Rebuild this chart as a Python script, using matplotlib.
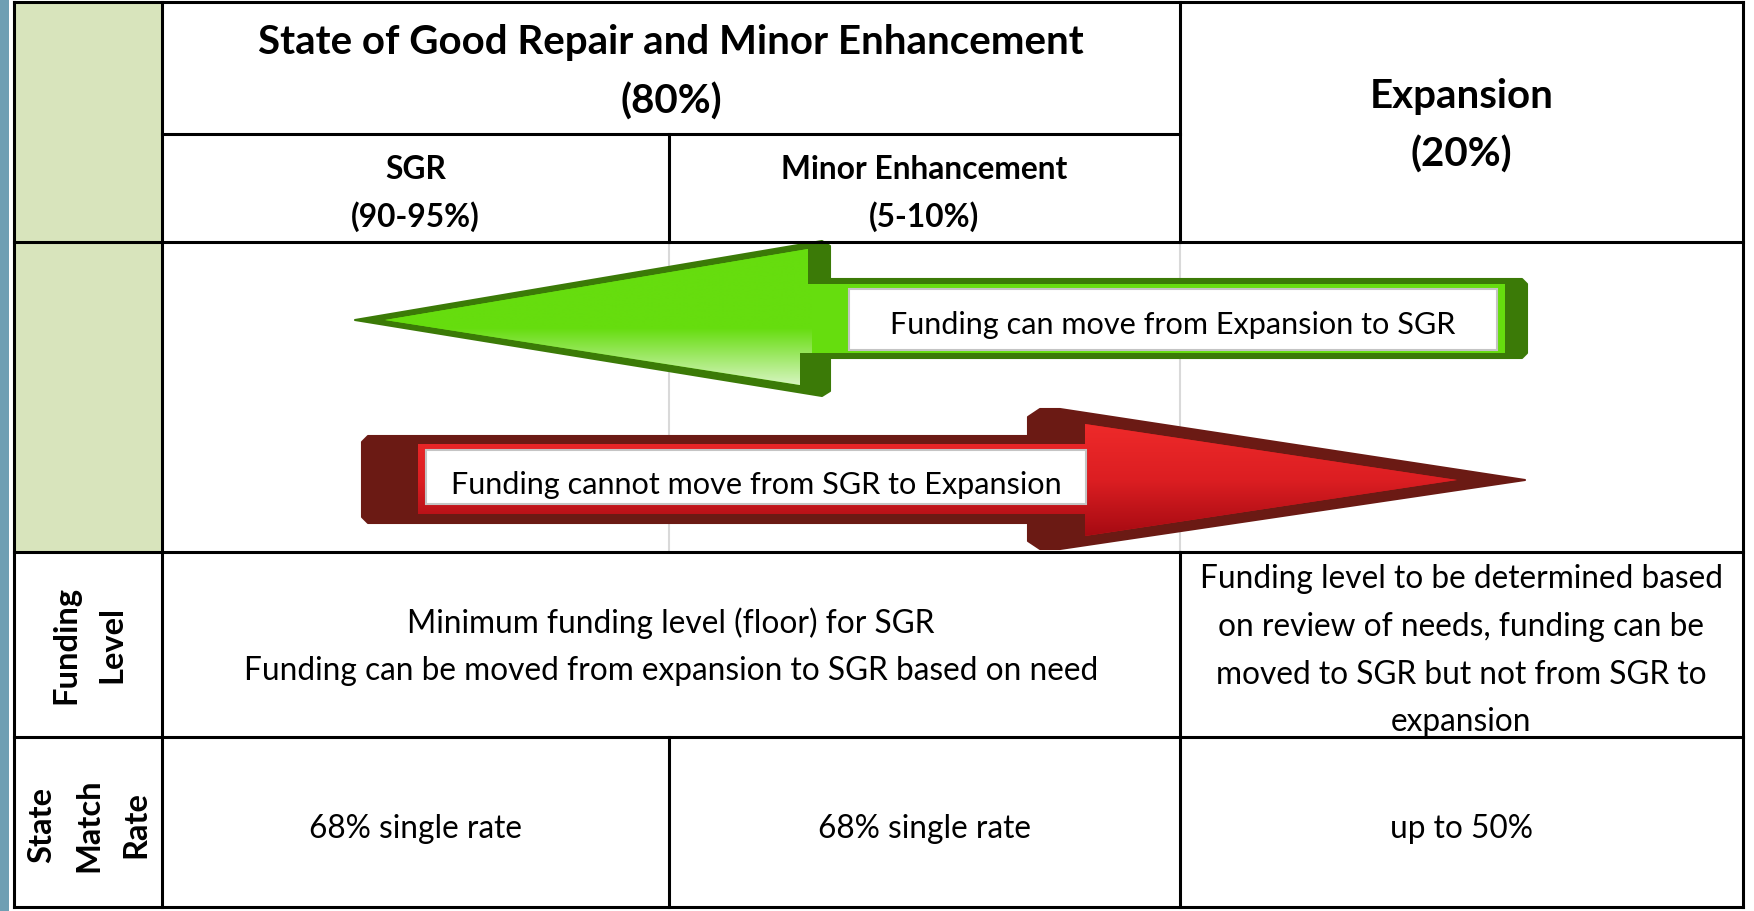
import numpy as np
import matplotlib.pyplot as plt
from matplotlib.patches import Polygon, Rectangle
from matplotlib.colors import LinearSegmentedColormap

plt.rcParams['font.family'] = ['Lato', 'DejaVu Sans']

# table content
top_header = ["State of Good Repair and Minor Enhancement", "(80%)"]
exp_header = ["Expansion", "(20%)"]
sub_headers = [["SGR", "(90-95%)"], ["Minor Enhancement", "(5-10%)"]]
arrow_labels = ["Funding can move from Expansion to SGR",
                "Funding cannot move from SGR to Expansion"]
row_labels = [["Funding", "Level"], ["State", "Match", "Rate"]]
funding_sgr = ["Minimum funding level (floor) for SGR",
               "Funding can be moved from expansion to SGR based on need"]
funding_exp = ["Funding level to be determined based",
               "on review of needs, funding can be",
               "moved to SGR but not from SGR to",
               "expansion"]
match_rates = ["68% single rate", "68% single rate", "up to 50%"]

# grid (pixels)
X = [14, 162, 669, 1180, 1743]
Y = [3, 135, 243, 553, 738, 908]

fig = plt.figure(figsize=(17.54, 9.12), dpi=100)
ax = fig.add_axes([0, 0, 1, 1])
ax.set_xlim(0, 1754)
ax.set_ylim(912, 0)
ax.axis('off')


def hline(y, x0, x1, color='black', lw=2.2, z=8):
    ax.plot([x0, x1], [y, y], color=color, lw=lw, solid_capstyle='projecting', zorder=z)


def vline(x, y0, y1, color='black', lw=2.2, z=8):
    ax.plot([x, x], [y0, y1], color=color, lw=lw, solid_capstyle='projecting', zorder=z)


def size_for(s, width, weight='normal'):
    t = ax.text(0, 0, s, fontsize=20, fontweight=weight)
    w = t.get_window_extent(fig.canvas.get_renderer()).width
    t.remove()
    return 20.0 * width / w


def put(x, yc, s, fs, weight='normal'):
    # yc is the visual middle of the capitals
    ax.text(x, yc + 0.36 * fs * 100 / 72, s, fontsize=fs, fontweight=weight,
            ha='center', va='baseline', zorder=7)


# side strip and shaded label column
ax.add_patch(Rectangle((0, 0), 9, 912, color='#6f9fb3', lw=0))
ax.add_patch(Rectangle((X[0], Y[0]), X[1] - X[0], Y[3] - Y[0], color='#d8e4bc', lw=0))

# faint column guides under the arrows
vline(X[2], Y[2], Y[3], color='#d9d9d9', lw=1.5, z=1)
vline(X[3], Y[2], Y[3], color='#d9d9d9', lw=1.5, z=1)

grad = np.linspace(0, 1, 256).reshape(-1, 1)

# green arrow (left)
g_outer = [(355, 321), (822, 242), (830, 247), (830, 280), (1522, 280), (1527, 285),
           (1527, 354), (1522, 359), (830, 359), (830, 392), (822, 397)]
g_face = [(385, 321), (808, 250), (808, 285), (1505, 285), (1505, 354), (800, 354), (800, 386)]
ax.add_patch(Polygon(g_outer, closed=True, fc='#3b7a07', ec='#3b7a07', lw=1.5,
                     joinstyle='round', zorder=2))
gface = Polygon(g_face, closed=True, fc='#66dd0e', ec='none', zorder=3)
ax.add_patch(gface)
gcm = LinearSegmentedColormap.from_list('gface', [(0, '#66dd0e'), (0.55, '#66dd0e'), (1, '#ecf9e2')])
im = ax.imshow(grad, cmap=gcm, extent=(355, 812, 397, 246), origin='upper',
               aspect='auto', interpolation='bilinear', zorder=3.5)
im.set_clip_path(gface)
ax.add_patch(Rectangle((849, 290), 648, 61, fc='white', ec='#c4c4c4', lw=1.5, zorder=4))

# red arrow (right)
r_outer = [(368, 437), (1028, 437), (1028, 418), (1040, 410), (1060, 410), (1525, 481),
           (1060, 550), (1040, 550), (1028, 542), (1028, 524), (368, 524), (362, 518), (362, 443)]
r_face = [(418, 445), (1085, 445), (1085, 425), (1457, 481), (1085, 537), (1085, 515), (418, 515)]
ax.add_patch(Polygon(r_outer, closed=True, fc='#6b1a14', ec='#6b1a14', lw=1.5,
                     joinstyle='round', zorder=2))
rface = Polygon(r_face, closed=True, fc='#d81c20', ec='none', zorder=3)
ax.add_patch(rface)
rcm = LinearSegmentedColormap.from_list('rface', ['#ee2a2a', '#dc1e22', '#a50a12'])
im = ax.imshow(grad, cmap=rcm, extent=(418, 1460, 537, 425), origin='upper',
               aspect='auto', interpolation='bilinear', zorder=3.5)
im.set_clip_path(rface)
ax.add_patch(Rectangle((426, 451), 660, 54, fc='white', ec='#c4c4c4', lw=1.5, zorder=4))

# table rules
for y in [Y[0], Y[2], Y[3], Y[4], Y[5]]:
    hline(y, X[0], X[4])
hline(Y[1], X[1], X[3])
vline(X[0], Y[0], Y[5])
vline(X[1], Y[0], Y[5])
vline(X[4], Y[0], Y[5])
vline(X[2], Y[1], Y[2])
vline(X[2], Y[4], Y[5])
vline(X[3], Y[0], Y[2])
vline(X[3], Y[3], Y[5])

# font sizes taken from line widths
fs_title = size_for(top_header[0], 825, 'bold')
fs_sub = size_for(sub_headers[1][0], 287, 'bold')
fs_body = size_for(funding_sgr[1], 855)
fs_arrow = size_for(arrow_labels[1], 612)
fs_row = size_for(row_labels[0][0], 118, 'bold')

mid_a = (X[1] + X[3]) / 2
put(mid_a, 40, top_header[0], fs_title, 'bold')
put(mid_a, 99, top_header[1], fs_title, 'bold')
mid_e = (X[3] + X[4]) / 2
put(mid_e, 94, exp_header[0], fs_title, 'bold')
put(mid_e, 152, exp_header[1], fs_title, 'bold')
for i, (name, share) in enumerate(sub_headers):
    xc = (X[1 + i] + X[2 + i]) / 2
    put(xc, 168, name, fs_sub, 'bold')
    put(xc, 215, share, fs_sub, 'bold')

put(1173, 323, arrow_labels[0], fs_arrow)
put(756, 483, arrow_labels[1], fs_arrow)

for i, line in enumerate(funding_sgr):
    put(mid_a, 622 + 47 * i, line, fs_body)
for i, line in enumerate(funding_exp):
    put(mid_e, 577 + 47.7 * i, line, fs_body)
for i, txt in enumerate(match_rates):
    put((X[1 + i] + X[2 + i]) / 2, 827, txt, fs_body)

# rotated row labels
for xs, yc, labels in [([66, 112], 645, row_labels[0]), ([42, 89, 136], 825, row_labels[1])]:
    for x, lab in zip(xs, labels):
        ax.text(x, yc, lab, fontsize=fs_row, fontweight='bold', rotation=90,
                ha='center', va='center', zorder=7)

ax.set_xlim(0, 1754)
ax.set_ylim(912, 0)
fig.savefig('out.png', dpi=100)
